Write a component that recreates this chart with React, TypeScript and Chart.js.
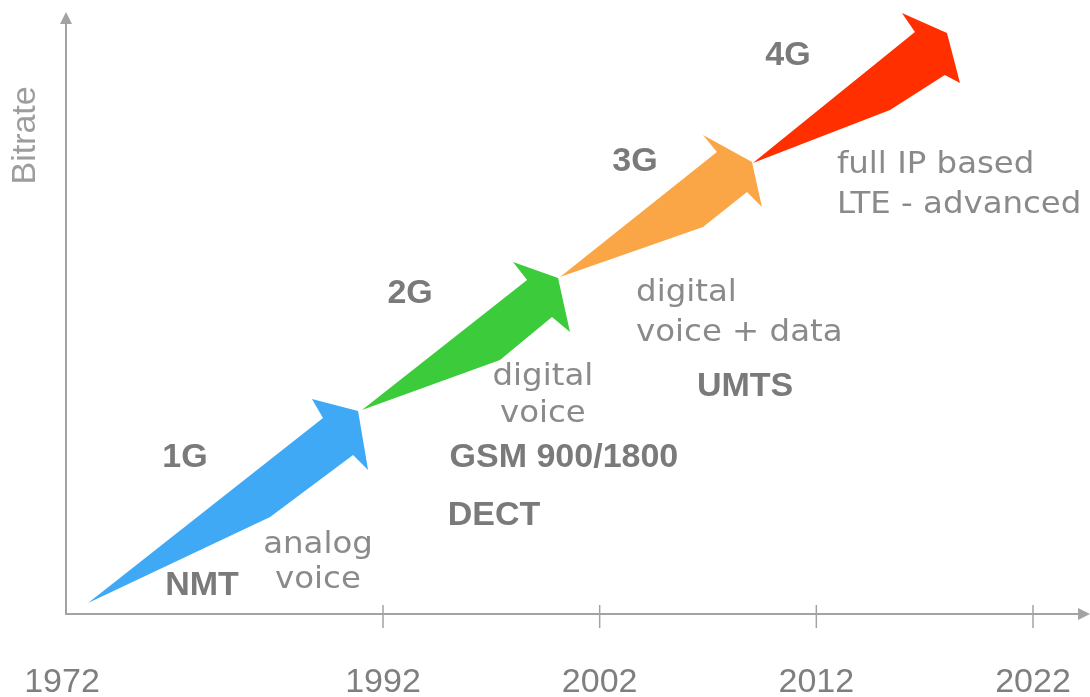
import React, { useEffect, useRef } from "react";
import { Chart, registerables } from "chart.js";

Chart.register(...registerables);

// ---- data (x in years, y in relative bitrate units 0..100) ----
const TICK_YEARS = [1972, 1992, 2002, 2012, 2022];
const X_MIN = 1977.37; // broken axis: the origin is labelled 1972
const X_MAX = 2024.63;
const Y_MIN = 0;
const Y_MAX = 100;

const GEN_NAMES = ["1G", "2G", "3G", "4G"];
const GEN_COLORS = ["#3fa9f5", "#3bcb3b", "#fba646", "#ff2f00"];

const ARROW_1G_X = [1978.39, 1989.23, 1988.72, 1990.85, 1991.31, 1990.62, 1986.79, 1978.39];
const ARROW_1G_Y = [1.83, 32.56, 35.71, 33.72, 23.92, 26.41, 16.11, 1.83];
const ARROW_2G_X = [1991.03, 1998.65, 1998.0, 2000.08, 2000.63, 1999.8, 1997.4, 1991.03];
const ARROW_2G_Y = [33.89, 55.48, 58.47, 55.81, 46.84, 49.34, 42.19, 33.89];
const ARROW_3G_X = [2000.17, 2007.41, 2006.77, 2009.03, 2009.49, 2008.8, 2006.77, 2000.17];
const ARROW_3G_Y = [55.98, 76.74, 79.57, 75.08, 67.61, 70.1, 64.29, 55.98];
const ARROW_4G_X = [2009.07, 2016.55, 2015.95, 2018.03, 2018.63, 2017.93, 2015.4, 2009.07];
const ARROW_4G_Y = [74.92, 96.68, 99.83, 96.51, 88.21, 89.53, 83.72, 74.92];

const ARROWS_X = [ARROW_1G_X, ARROW_2G_X, ARROW_3G_X, ARROW_4G_X];
const ARROWS_Y = [ARROW_1G_Y, ARROW_2G_Y, ARROW_3G_Y, ARROW_4G_Y];

// annotation texts
const LABEL_TEXT = [
  "1G", "NMT", "analog", "voice",
  "2G", "digital", "voice", "GSM 900/1800", "DECT",
  "3G", "digital", "voice + data", "UMTS",
  "4G", "full IP based", "LTE - advanced",
];
const LABEL_X = [
  1982.86, 1983.65, 1989.0, 1989.0,
  1993.25, 1999.38, 1999.38, 2000.35, 1997.12,
  2003.63, 2003.68, 2003.68, 2008.71,
  2010.69, 2012.95, 2012.95,
];
const LABEL_Y = [
  25.91, 4.65, 11.46, 5.65,
  53.16, 39.37, 33.22, 25.91, 16.28,
  75.08, 53.32, 46.68, 37.71,
  92.69, 74.6, 67.9,
];
const LABEL_KIND = [
  "bold", "bold", "hand", "hand",
  "bold", "hand", "hand", "bold", "bold",
  "bold", "hand", "hand", "bold",
  "bold", "hand", "hand",
];
const LABEL_ALIGN = [
  "center", "center", "center", "center",
  "center", "center", "center", "center", "center",
  "center", "left", "left", "center",
  "center", "left", "left",
];
const Y_TITLE = "Bitrate";

const AXIS_COLOR = "#a3a3a3";

const decorPlugin = {
  id: "decor",
  beforeDraw(chart: any) {
    const { ctx, width, height } = chart;
    ctx.save();
    ctx.fillStyle = "#ffffff";
    ctx.fillRect(0, 0, width, height);
    ctx.restore();
  },
  beforeDatasetsDraw(chart: any) {
    const { ctx, chartArea } = chart;
    const xs = chart.scales.x;
    const ys = chart.scales.y;
    const x0 = xs.getPixelForValue(X_MIN);
    const y0 = ys.getPixelForValue(Y_MIN);
    const xEnd = chartArea.right;
    const yTop = chartArea.top;
    ctx.save();
    ctx.strokeStyle = AXIS_COLOR;
    ctx.fillStyle = AXIS_COLOR;
    ctx.lineWidth = 2;
    // x axis
    ctx.beginPath();
    ctx.moveTo(x0, y0);
    ctx.lineTo(xEnd - 10, y0);
    ctx.stroke();
    ctx.beginPath();
    ctx.moveTo(xEnd, y0);
    ctx.lineTo(xEnd - 12, y0 - 6);
    ctx.lineTo(xEnd - 12, y0 + 6);
    ctx.closePath();
    ctx.fill();
    // y axis
    ctx.beginPath();
    ctx.moveTo(x0, y0 + 1);
    ctx.lineTo(x0, yTop + 10);
    ctx.stroke();
    ctx.beginPath();
    ctx.moveTo(x0, yTop);
    ctx.lineTo(x0 - 6, yTop + 12);
    ctx.lineTo(x0 + 6, yTop + 12);
    ctx.closePath();
    ctx.fill();
    // tick marks + labels
    ctx.lineWidth = 1.5;
    ctx.fillStyle = "#7f7f7f";
    ctx.font = '34px "Liberation Sans", Arial, sans-serif';
    ctx.textAlign = "center";
    ctx.textBaseline = "middle";
    TICK_YEARS.forEach((yr, i) => {
      const v = i === 0 ? X_MIN : yr;
      const px = xs.getPixelForValue(v);
      if (i > 0) {
        ctx.beginPath();
        ctx.moveTo(px, y0 - 9);
        ctx.lineTo(px, y0 + 14);
        ctx.stroke();
      }
      ctx.fillText(String(yr), i === 0 ? px - 4 : px, y0 + 69);
    });
    // y title
    ctx.save();
    ctx.translate(x0 - 40, ys.getPixelForValue(79.5));
    ctx.rotate(-Math.PI / 2);
    ctx.fillStyle = "#9d9d9d";
    ctx.font = '34px "Liberation Sans", Arial, sans-serif';
    ctx.fillText(Y_TITLE, 0, 0);
    ctx.restore();
    ctx.restore();
  },
  afterDatasetsDraw(chart: any) {
    const { ctx } = chart;
    const xs = chart.scales.x;
    const ys = chart.scales.y;
    ctx.save();
    ctx.textBaseline = "middle";
    LABEL_TEXT.forEach((t, i) => {
      const px = xs.getPixelForValue(LABEL_X[i]);
      const py = ys.getPixelForValue(LABEL_Y[i]);
      ctx.textAlign = LABEL_ALIGN[i];
      if (LABEL_KIND[i] === "bold") {
        ctx.fillStyle = "#7a7a7a";
        ctx.font = 'bold 34px "Liberation Sans", Arial, sans-serif';
        ctx.fillText(t, px, py);
      } else {
        ctx.fillStyle = "#8a8a8a";
        ctx.font = '30px "DejaVu Sans", sans-serif';
        ctx.save();
        ctx.translate(px, py);
        ctx.scale(1.08, 1);
        ctx.fillText(t, 0, 0);
        ctx.restore();
      }
    });
    ctx.restore();
  },
};

export default function App() {
  const ref = useRef<HTMLCanvasElement | null>(null);
  useEffect(() => {
    if (!ref.current) return;
    const datasets = GEN_NAMES.map((name, i) => ({
      label: name,
      data: ARROWS_X[i].map((x, j) => ({ x, y: ARROWS_Y[i][j] })),
      showLine: true,
      fill: "shape",
      tension: 0,
      borderWidth: 0,
      borderColor: GEN_COLORS[i],
      backgroundColor: GEN_COLORS[i],
      pointRadius: 0,
      order: 4 - i,
    }));
    const chart = new Chart(ref.current, {
      type: "line",
      data: { datasets } as any,
      options: {
        animation: false,
        responsive: false,
        maintainAspectRatio: false,
        layout: { padding: { left: 66, right: 0, top: 12, bottom: 83 } },
        scales: {
          x: { type: "linear", min: X_MIN, max: X_MAX, display: false },
          y: { type: "linear", min: Y_MIN, max: Y_MAX, display: false },
        },
        plugins: {
          legend: { display: false },
          tooltip: { enabled: false },
          title: { display: false },
        },
      } as any,
      plugins: [decorPlugin as any],
    });
    return () => chart.destroy();
  }, []);
  return (
    <div style={{ position: "absolute", left: 0, top: 0, width: 1090, height: 697 }}>
      <canvas ref={ref} width={1090} height={697} style={{ display: "block" }} />
    </div>
  );
}
